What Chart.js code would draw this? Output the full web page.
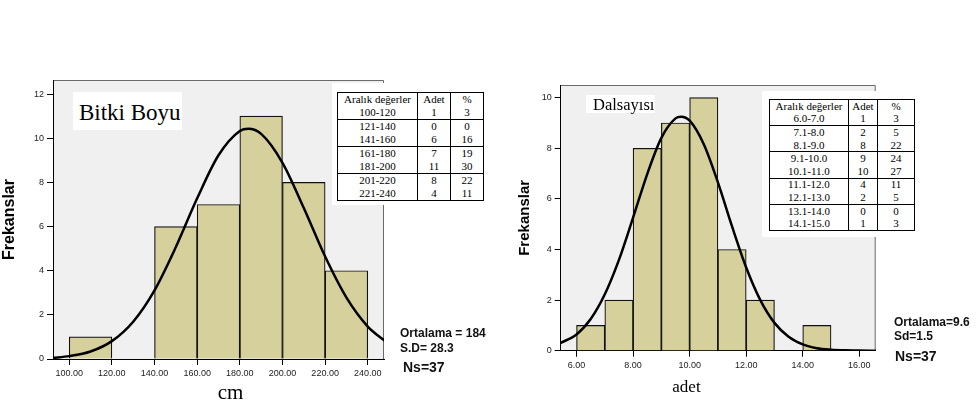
<!DOCTYPE html>
<html><head><meta charset="utf-8">
<script src="https://cdn.jsdelivr.net/npm/chart.js@4/dist/chart.umd.min.js"></script>
<style>
html,body{margin:0;padding:0;background:#fff;width:978px;height:406px;overflow:hidden;position:relative;font-family:'Liberation Sans',Arial,sans-serif}
.wrap{position:absolute;top:0;height:406px}
.abs{position:absolute;white-space:nowrap}
.serif{font-family:'Liberation Serif','Times New Roman',serif;color:#000}
.stat{font-weight:bold;font-size:12px;color:#111;line-height:14px}
.ns{font-weight:bold;font-size:14px;color:#111;line-height:16px}
table.freq{border-collapse:collapse;border:1px solid #000;font-family:'Liberation Serif','Times New Roman',serif;font-size:11px;color:#000;background:#fff;table-layout:fixed}
table.freq td{padding:0;text-align:center;border-left:1px solid #000;border-right:1px solid #000;line-height:11px;overflow:hidden}
table.freq tr.sep td{border-bottom:1px solid #000}
.whitebox{position:absolute;background:#fff}
</style></head>
<body>
<div class="wrap" style="left:0;width:440px"><canvas id="c1"></canvas></div>
<div class="wrap" style="left:470px;width:508px"><canvas id="c2"></canvas></div>

<div class="whitebox" style="left:73px;top:92px;width:109px;height:38px"></div>
<div class="abs serif" style="left:79px;top:92px;height:38px;line-height:38px;font-size:23px"><span style="position:relative;top:2px">Bitki Boyu</span></div>
<div class="whitebox" style="left:586px;top:95px;width:69px;height:18px"></div>
<div class="abs serif" style="left:593px;top:95px;height:18px;line-height:18px;font-size:16.5px"><span style="position:relative;top:1px">Dalsayısı</span></div>

<div class="whitebox" style="left:332px;top:83px;width:158px;height:122px"></div>
<table class="freq abs" id="t1" style="left:337px;top:92px;width:147px"></table>
<div class="whitebox" style="left:762px;top:91px;width:156px;height:146px"></div>
<table class="freq abs" id="t2" style="left:769px;top:99px;width:146px"></table>

<div class="abs serif" style="left:200px;top:380px;width:61px;text-align:center;font-size:21px;line-height:24px">cm</div>
<div class="abs serif" style="left:656px;top:377px;width:61px;text-align:center;font-size:17px;line-height:20px">adet</div>

<div class="abs stat" style="left:400px;top:326px">Ortalama = 184</div>
<div class="abs stat" style="left:400px;top:341px">S.D= 28.3</div>
<div class="abs ns" style="left:403px;top:359px">Ns=37</div>
<div class="abs stat" style="left:894px;top:315px">Ortalama=9.6</div>
<div class="abs stat" style="left:894px;top:329px">Sd=1.5</div>
<div class="abs ns" style="left:895px;top:348px">Ns=37</div>

<script>
// ---- Bitki Boyu (left) ----
const leftRanges   = ['100-120','121-140','141-160','161-180','181-200','201-220','221-240'];
const leftCounts   = [1, 0, 6, 7, 11, 8, 4];
const leftPercents = [3, 0, 16, 19, 30, 22, 11];
const leftBinMids  = [110, 130, 150, 170, 190, 210, 230];
const leftXTicks   = [100, 120, 140, 160, 180, 200, 220, 240];
const leftYTicks   = [0, 2, 4, 6, 8, 10, 12];
const leftCurveX   = [92, 100, 110, 120, 130, 140, 150, 160, 170, 180, 184, 190, 200, 210, 220, 230, 240, 248];
const leftCurveY   = [0.05, 0.13, 0.34, 0.81, 1.69, 3.11, 5.07, 7.28, 9.23, 10.33, 10.43, 10.2, 8.89, 6.84, 4.64, 2.78, 1.47, 0.82];

// ---- Dalsayısı (right) ----
const rightRanges   = ['6.0-7.0','7.1-8.0','8.1-9.0','9.1-10.0','10.1-11.0','11.1-12.0','12.1-13.0','13.1-14.0','14.1-15.0'];
const rightCounts   = [1, 2, 8, 9, 10, 4, 2, 0, 1];
const rightPercents = [3, 5, 22, 24, 27, 11, 5, 0, 3];
const rightBinMids  = [6.5, 7.5, 8.5, 9.5, 10.5, 11.5, 12.5, 13.5, 14.5];
const rightXTicks   = [6, 8, 10, 12, 14, 16];
const rightYTicks   = [0, 2, 4, 6, 8, 10];
const rightCurveX   = [5.4, 6, 6.5, 7, 7.5, 8, 8.5, 9, 9.5, 9.7, 10, 10.5, 11, 11.5, 12, 12.5, 13, 13.5, 14, 14.5, 15, 15.5, 16, 16.6];
const rightCurveY   = [0.29, 0.64, 1.25, 2.23, 3.59, 5.26, 6.98, 8.41, 9.18, 9.25, 9.09, 8.16, 6.65, 4.91, 3.29, 2.0, 1.1, 0.55, 0.25, 0.1, 0.04, 0.013, 0.004, 0.001];

const headers = ['Aralık değerler', 'Adet', '%'];

function buildTable(id, ranges, counts, pcts, rowH, colW) {
  const t = document.getElementById(id);
  let html = '<colgroup>' + colW.map(w => '<col style="width:' + w + 'px">').join('') + '</colgroup>';
  html += '<tr>' + headers.map(h => '<td style="height:' + rowH + 'px">' + h + '</td>').join('') + '</tr>';
  ranges.forEach((r, i) => {
    const sep = (i % 2 === 0 && i < ranges.length - 1) ? ' class="sep"' : '';
    html += '<tr' + sep + '><td style="height:' + rowH + 'px">' + r + '</td><td>' + counts[i] + '</td><td>' + pcts[i] + '</td></tr>';
  });
  t.innerHTML = html;
}
buildTable('t1', leftRanges, leftCounts, leftPercents, 13, [80, 33, 33]);
buildTable('t2', rightRanges, rightCounts, rightPercents, 12.6, [79, 29, 37]);

const framePlugin = {
  id: 'frame',
  beforeDraw(chart) {
    const {ctx, chartArea: a} = chart;
    ctx.save();
    ctx.fillStyle = '#f0f0f0';
    ctx.fillRect(a.left, a.top, a.right - a.left, a.bottom - a.top);
    ctx.strokeStyle = '#6a6a6a';
    ctx.lineWidth = 1;
    ctx.beginPath();
    ctx.moveTo(a.left, a.top + 0.5);
    ctx.lineTo(a.right - 0.5, a.top + 0.5);
    ctx.lineTo(a.right - 0.5, a.bottom);
    ctx.stroke();
    ctx.restore();
  }
};

function makeChart(id, cfg) {
  const barData = cfg.mids.map((m, i) => ({x: m, y: cfg.counts[i]}));
  const lineData = cfg.cx.map((x, i) => ({x: x, y: cfg.cy[i]}));
  return new Chart(document.getElementById(id), {
    type: 'bar',
    data: {
      datasets: [
        {type: 'line', data: lineData, borderColor: '#000', borderWidth: 2.5, pointRadius: 0, cubicInterpolationMode: 'monotone', fill: false, order: 0},
        {type: 'bar', data: barData, backgroundColor: '#d5d09c', borderColor: '#111', borderWidth: 1.2, borderSkipped: 'start', barPercentage: 1, categoryPercentage: 1, order: 1}
      ]
    },
    options: {
      responsive: true,
      maintainAspectRatio: false,
      animation: false,
      layout: {padding: cfg.padding},
      plugins: {legend: {display: false}, tooltip: {enabled: false}},
      scales: {
        x: {
          type: 'linear', min: cfg.xmin, max: cfg.xmax, offset: false,
          afterBuildTicks: s => { s.ticks = cfg.xticks.map(v => ({value: v})); },
          afterFit: s => { s.height = cfg.xh; },
          grid: {drawOnChartArea: false, drawTicks: true, tickLength: 6, color: '#000', offset: false},
          border: {display: true, color: '#000', width: 1},
          ticks: {autoSkip: false, maxRotation: 0, padding: 3, color: '#222', font: {family: 'Liberation Sans, Arial', size: 9}, callback: v => Number(v).toFixed(2)}
        },
        y: {
          min: 0, max: cfg.ymax,
          afterBuildTicks: s => { s.ticks = cfg.yticks.map(v => ({value: v})); },
          afterFit: s => { s.width = 53; },
          grid: {drawOnChartArea: false, drawTicks: true, tickLength: 6, color: '#000'},
          border: {display: true, color: '#000', width: 1},
          ticks: {padding: 3, color: '#222', font: {family: 'Liberation Sans, Arial', size: 9}, callback: v => String(v)},
          title: {display: true, text: 'Frekanslar', color: '#000', font: {family: 'Liberation Sans, Arial', size: cfg.yfs, weight: 'bold'}, padding: {top: cfg.ytp, bottom: 0}}
        }
      }
    },
    plugins: [framePlugin]
  });
}

makeChart('c1', {
  mids: leftBinMids, counts: leftCounts, cx: leftCurveX, cy: leftCurveY,
  xmin: 92.4, xmax: 247.6, ymax: 12.64, xticks: leftXTicks, yticks: leftYTicks,
  padding: {top: 80, right: 56, bottom: 0, left: 0}, xh: 47, yfs: 16, ytp: 0.4
});
makeChart('c2', {
  mids: rightBinMids, counts: rightCounts, cx: rightCurveX, cy: rightCurveY,
  xmin: 5.44, xmax: 16.58, ymax: 10.5, xticks: rightXTicks, yticks: rightYTicks,
  padding: {top: 85, right: 102.3, bottom: 0, left: 37.7}, xh: 55.3, yfs: 15, ytp: 8.3
});
</script>
</body></html>
